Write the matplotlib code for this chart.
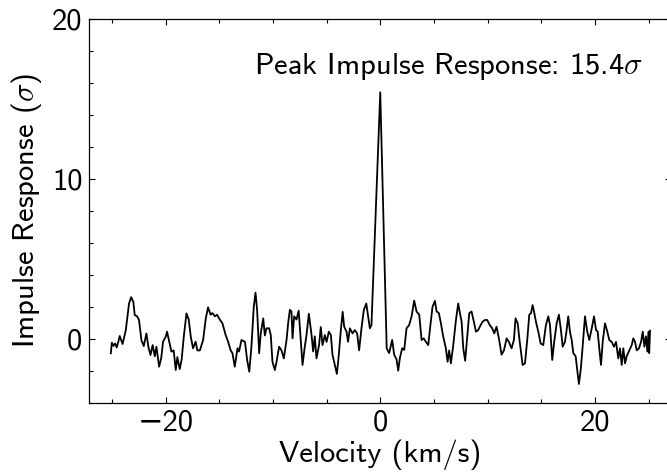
import matplotlib
matplotlib.use("Agg")
import matplotlib.pyplot as plt
from matplotlib.ticker import MultipleLocator

plt.rcParams['font.family'] = ['cmss10', 'DejaVu Sans']
plt.rcParams['mathtext.fontset'] = 'cm'
plt.rcParams['axes.unicode_minus'] = True

velocity = [
    -25.1, -25.0, -24.85, -24.7, -24.55, -24.4, -24.27, -24.0, -23.7, -23.4, -23.2, -23.0,
    -22.87, -22.65, -22.47, -22.25, -22.03, -21.78, -21.6, -21.4, -21.2, -21.0, -20.85,
    -20.6, -20.4, -20.23, -19.98, -19.86, -19.67, -19.45, -19.24, -19.05, -18.9, -18.68,
    -18.5, -18.3, -18.05, -17.84, -17.65, -17.44, -17.2, -17.03, -16.8, -16.5, -16.25,
    -16.04, -15.8, -15.63, -15.4, -15.2, -14.95, -14.7, -14.4, -14.17, -13.95, -13.77,
    -13.55, -13.3, -13.15, -12.93, -12.6, -12.4, -12.2, -12.0, -11.78, -11.62, -11.47,
    -11.28, -11.13, -10.9, -10.75, -10.6, -10.35, -10.2, -10.04, -9.82, -9.66, -9.42,
    -9.2, -8.98, -8.73, -8.58, -8.42, -8.27, -8.17, -8.02, -7.8, -7.6, -7.43, -7.24,
    -7.03, -6.87, -6.65, -6.4, -6.25, -6.1, -5.94, -5.7, -5.54, -5.38, -5.16, -5.0,
    -4.79, -4.6, -4.45, -4.23, -4.04, -3.86, -3.67, -3.5, -3.36, -3.14, -3.0, -2.83,
    -2.58, -2.37, -2.15, -1.97, -1.75, -1.53, -1.3, -1.13, -0.97, -0.82, 0.0, 0.6,
    0.83, 1.11, 1.3, 1.52, 1.67, 1.83, 2.04, 2.23, 2.45, 2.69, 2.92, 3.16, 3.38, 3.63,
    3.85, 4.06, 4.25, 4.47, 4.69, 4.87, 5.09, 5.25, 5.46, 5.65, 5.86, 6.11, 6.27, 6.42,
    6.58, 6.8, 7.05, 7.26, 7.42, 7.58, 7.73, 7.91, 8.1, 8.29, 8.5, 8.72, 8.91, 9.12,
    9.35, 9.53, 9.75, 9.96, 10.2, 10.43, 10.62, 10.83, 11.05, 11.3, 11.52, 11.77, 11.98,
    12.23, 12.45, 12.6, 12.8, 12.97, 13.26, 13.48, 13.69, 13.88, 14.04, 14.19, 14.35,
    14.5, 14.72, 14.94, 15.18, 15.43, 15.65, 15.81, 16.02, 16.2, 16.43, 16.64, 16.83,
    16.99, 17.2, 17.36, 17.51, 17.67, 17.83, 17.98, 18.2, 18.35, 18.5, 18.67, 18.85,
    19.07, 19.28, 19.47, 19.7, 19.91, 20.1, 20.25, 20.4, 20.56, 20.72, 20.93, 21.15,
    21.33, 21.56, 21.77, 21.96, 22.17, 22.33, 22.49, 22.64, 22.8, 22.95, 23.2, 23.42,
    23.57, 23.73, 23.89, 24.1, 24.29, 24.45, 24.6, 24.75, 24.88, 25.0, 25.05, 25.13,
]

response = [
    -0.91, -0.25, -0.45, -0.3, -0.55, -0.2, 0.17, -0.33, 0.54, 2.2, 2.6, 2.3,
    1.48, 1.4, 1.17, -0.08, -0.46, 0.33, -0.5, -1.02, -0.4, -1.1, -0.5,
    -1.75, -1.2, -0.19, 0.13, 0.44, -0.15, -0.81, -0.73, -1.96, -1.15, -1.9,
    -1.3, 0.13, 1.58, 1.2, 0.13, -0.6, -0.19, -0.73, -0.73, -0.08, 1.27,
    1.96, 1.5, 1.6, 1.4, 1.5, 1.2, 0.96, 0.23, -0.19, -0.7, -0.9,
    -1.75, -0.6, -0.8, -0.08, -0.2, -1.33, -2.06, -0.5, 2.0, 2.88, 1.8,
    -0.91, 0.34, 1.27, 0.2, 0.65, 0.65, 0.23, -1.44, -1.96, -1.44, -0.5,
    -0.73, -1.23, -0.08, 0.96, 1.8, 1.7, 0.02, 1.4, 1.2, 1.75, 0.15, -1.64,
    -0.5, 0.23, 1.56, 0.23, -0.8, 0.15, -1.23, -0.4, 0.73, -0.4, 0.23, -0.2,
    0.44, 0.23, -1.0, -1.64, -2.2, -1.0, 0.54, 1.68, 0.75, 0.44, -0.19, 0.65,
    0.33, 0.54, 0.33, -0.73, 0.65, 1.8, 2.2, 1.4, 0.65, 0.85, 15.4, -0.6,
    -0.9, -0.08, -1.0, -1.3, -2.0, -1.2, -0.6, -0.7, 0.65, 0.85, 1.4, 2.38, 1.7, 1.5,
    -0.08, 0.02, -0.2, -0.4, 0.96, 2.0, 2.36, 1.7, 1.6, 0.96, 0.15, -0.6, -1.44, -0.73,
    -1.54, -0.4, 1.17, 2.2, 1.6, 1.06, -0.6, -1.38, 0.15, 1.6, 1.7, 1.06, 0.44, 0.54,
    0.85, 1.06, 1.17, 1.17, 0.85, 0.65, 0.33, 0.75, 0.02, -1.0, -0.73, 0.02, -0.2,
    -0.6, -0.08, 1.27, 0.96, -0.08, -1.64, -1.54, -0.08, 1.5, 1.6, 2.1, 1.6,
    1.06, 0.44, -0.3, -0.4, 0.85, 1.4, 0.85, -1.33, -0.2, 0.96, 1.5, 0.54,
    -0.5, -0.2, 0.54, 1.4, 0.44, -0.08, -0.9, -1.1, -1.96, -2.83, -1.96, -0.5,
    1.4, 0.44, -0.08, 0.65, 1.4, 0.54, 0.45, -0.6, -1.64, -0.2, 0.96, 0.44,
    -0.08, -0.2, -0.5, -0.2, -1.23, -0.6, -1.64, -0.6, -1.54, -1.1, -0.73, -0.4,
    0.02, -0.2, -0.73, -0.6, -0.2, 0.44, -0.5, 0.15, -0.8, 0.44, -0.9, 0.5,
]

peak_label = r"Peak Impulse Response: 15.4$\sigma$"
xlabel = "Velocity (km/s)"
ylabel = r"Impulse Response ($\sigma$)"

fig = plt.figure(figsize=(6.67, 4.75), dpi=100)
ax = fig.add_axes([0.1339, 0.1522, 0.8724, 0.8084])
ax.plot(velocity, response, color='black', lw=1.3)

ax.set_xlim(-27.1, 27.1)
ax.set_ylim(-4, 20)
ax.xaxis.set_major_locator(MultipleLocator(20))
ax.xaxis.set_minor_locator(MultipleLocator(5))
ax.yaxis.set_major_locator(MultipleLocator(10))
ax.yaxis.set_minor_locator(MultipleLocator(2))
ax.tick_params(which='both', direction='in', top=True, right=True, width=0.8)
ax.tick_params(which='major', length=4.5, labelsize=22, pad=5)
ax.tick_params(which='minor', length=3)
for s in ax.spines.values():
    s.set_linewidth(0.9)

ax.set_xlabel(xlabel, fontsize=22, labelpad=2)
ax.set_ylabel(ylabel, fontsize=22, labelpad=6)
ax.text(-11.8, 16.54, peak_label, fontsize=22, ha='left', va='baseline')

fig.savefig('out.png', dpi=100)
